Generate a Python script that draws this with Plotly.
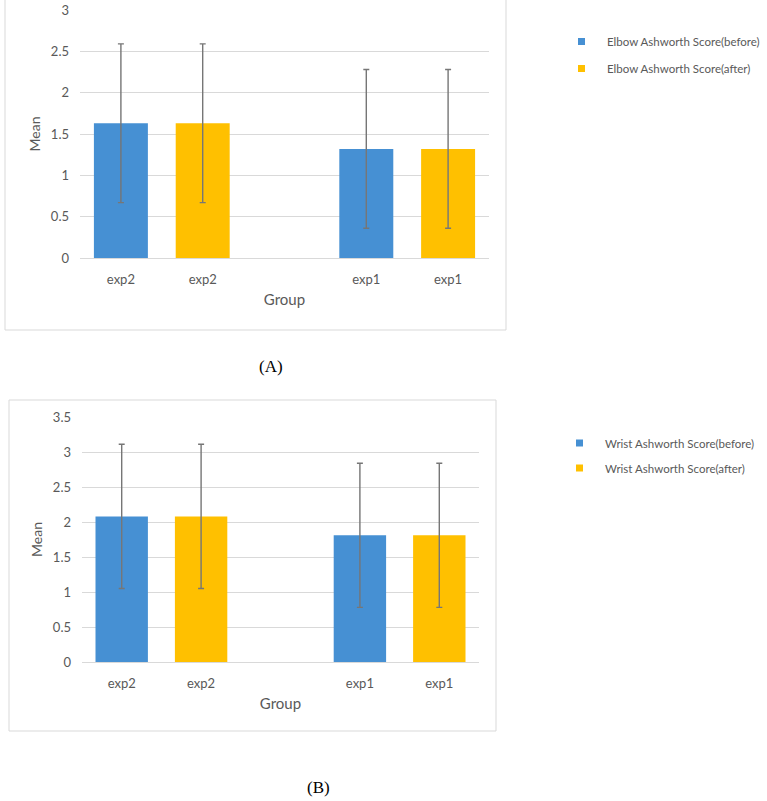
import plotly.graph_objects as go

# ---------------- data ----------------
slot_ids = ["exp2_before", "exp2_after", "gap", "exp1_before", "exp1_after"]
slot_labels = ["exp2", "exp2", "", "exp1", "exp1"]

before_x = ["exp2_before", "exp1_before"]
after_x = ["exp2_after", "exp1_after"]

elbow_before_mean = [1.63, 1.32]
elbow_before_sd = [0.96, 0.96]
elbow_after_mean = [1.63, 1.32]
elbow_after_sd = [0.96, 0.96]

wrist_before_mean = [2.08, 1.81]
wrist_before_sd = [1.03, 1.03]
wrist_after_mean = [2.08, 1.81]
wrist_after_sd = [1.03, 1.03]

names_a = ["Elbow Ashworth Score(before)", "Elbow Ashworth Score(after)"]
names_b = ["Wrist Ashworth Score(before)", "Wrist Ashworth Score(after)"]
panel_labels = ["(A)", "(B)"]

# ---------------- styling ----------------
W, H = 767, 801
BLUE = "#4690D3"
GOLD = "#FFC000"
GRID = "#D9D9D9"
TXT = "#595959"
ERR = "#767676"
FONT = "Lato, 'Open Sans', sans-serif"


def px_x(p):
    return p / W


def px_y(p):
    return 1 - p / H


fig = go.Figure()

panels = [
    dict(xa="x", ya="y", xaxis="xaxis", yaxis="yaxis",
         bm=elbow_before_mean, bs=elbow_before_sd, am=elbow_after_mean, as_=elbow_after_sd,
         names=names_a, xdom=(80, 489), ydom=(258, 10), yrange=[0, 3], dtick=0.5),
    dict(xa="x2", ya="y2", xaxis="xaxis2", yaxis="yaxis2",
         bm=wrist_before_mean, bs=wrist_before_sd, am=wrist_after_mean, as_=wrist_after_sd,
         names=names_b, xdom=(82, 479), ydom=(662, 417), yrange=[0, 3.5], dtick=0.5),
]

for p in panels:
    for xs, m, s, col, nm in [(before_x, p["bm"], p["bs"], BLUE, p["names"][0]),
                              (after_x, p["am"], p["as_"], GOLD, p["names"][1])]:
        fig.add_trace(go.Bar(
            x=xs, y=m, name=nm, marker=dict(color=col, line=dict(width=0)),
            width=0.66, xaxis=p["xa"], yaxis=p["ya"], showlegend=False,
            error_y=dict(type="data", array=s, visible=True, color=ERR,
                         thickness=1.4, width=3),
        ))
    fig.layout[p["xaxis"]] = dict(
        domain=[px_x(p["xdom"][0]), px_x(p["xdom"][1])],
        type="category", categoryorder="array", categoryarray=slot_ids,
        range=[-0.5, 4.5], tickvals=slot_ids, ticktext=slot_labels,
        showgrid=False, showline=True, linecolor=GRID, linewidth=1,
        ticks="", tickfont=dict(family=FONT, size=13, color=TXT),
        ticklabelstandoff=9, anchor=p["ya"], automargin=False,
        title=dict(text="Group", font=dict(family=FONT, size=15, color=TXT), standoff=8),
        fixedrange=True,
    )
    fig.layout[p["yaxis"]] = dict(
        domain=[px_y(p["ydom"][0]), px_y(p["ydom"][1])],
        range=p["yrange"], dtick=p["dtick"], showgrid=True, gridcolor=GRID, gridwidth=1,
        zeroline=False, showline=False, ticks="",
        tickfont=dict(family=FONT, size=13, color=TXT), ticklabelstandoff=10,
        anchor=p["xa"], automargin=False,
        title=dict(text="Mean", font=dict(family=FONT, size=14, color=TXT), standoff=6),
        fixedrange=True,
    )

shapes = []
annotations = []

# chart-area boxes
for (x0, y0, x1, y1) in [(5, -2, 506, 330), (9, 400, 496, 731)]:
    shapes.append(dict(type="rect", xref="paper", yref="paper",
                       x0=px_x(x0), x1=px_x(x1), y0=px_y(y1), y1=px_y(y0),
                       line=dict(color=GRID, width=1), fillcolor="rgba(0,0,0,0)", layer="below"))

# manual legends
legend_specs = [
    (names_a, 578, 605, [41.5, 68.5]),
    (names_b, 576, 603, [443, 468]),
]
for names, sx, tx, ys in legend_specs:
    for nm, col, yc in zip(names, [BLUE, GOLD], ys):
        shapes.append(dict(type="rect", xref="paper", yref="paper",
                           x0=px_x(sx), x1=px_x(sx + 7), y0=px_y(yc + 3.5), y1=px_y(yc - 3.5),
                           line=dict(width=0), fillcolor=col))
        annotations.append(dict(text=nm, xref="paper", yref="paper", x=px_x(tx), y=px_y(yc),
                                xanchor="left", yanchor="middle", showarrow=False,
                                font=dict(family=FONT, size=11.5, color=TXT)))

# panel labels
for lab, xc, yc in zip(panel_labels, [271, 318], [366, 787]):
    annotations.append(dict(text=lab, xref="paper", yref="paper", x=px_x(xc), y=px_y(yc),
                            xanchor="center", yanchor="middle", showarrow=False,
                            font=dict(family="'Liberation Serif', 'DejaVu Serif', serif", size=17, color="#000000")))

fig.update_layout(
    width=W, height=H, margin=dict(l=0, r=0, t=0, b=0, autoexpand=False),
    paper_bgcolor="white", plot_bgcolor="white",
    barmode="overlay", bargap=0.34,
    shapes=shapes, annotations=annotations, showlegend=False,
)

fig.write_html("out.html")
